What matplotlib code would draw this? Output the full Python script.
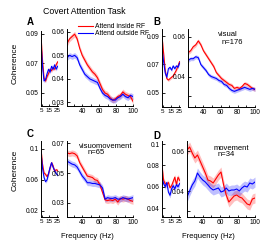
import numpy as np
import matplotlib
matplotlib.use('Agg')
import matplotlib.pyplot as plt

plt.rcParams['font.family'] = ['Liberation Sans', 'DejaVu Sans']

# 주파수 축
f_low = [4, 6, 8, 10, 12, 14, 16, 18, 20, 22, 24, 26]
f_high = [22, 25, 28, 31, 34, 37, 40, 43, 46, 49, 52, 55, 58, 61, 64,
          67, 70, 73, 76, 79, 82, 85, 88, 91, 94, 97, 100]

# A: 전체
a_low_in = [0.089, 0.072, 0.060, 0.058, 0.061, 0.063, 0.066, 0.065, 0.067, 0.066, 0.069, 0.071]
a_low_out = [0.084, 0.068, 0.058, 0.059, 0.063, 0.066, 0.064, 0.068, 0.066, 0.069, 0.066, 0.068]
a_high_in = [0.055, 0.057, 0.058, 0.059, 0.057, 0.053, 0.050, 0.048, 0.046, 0.0445, 0.043, 0.042, 0.0405,
             0.038, 0.0355, 0.034, 0.0335, 0.032, 0.031, 0.0315, 0.0325, 0.033, 0.0345, 0.0335, 0.033, 0.0325, 0.0305]
a_high_out = [0.049, 0.050, 0.0495, 0.050, 0.049, 0.046, 0.044, 0.042, 0.041, 0.040, 0.0395, 0.039, 0.0385,
              0.036, 0.034, 0.033, 0.0325, 0.0315, 0.031, 0.031, 0.032, 0.0325, 0.0335, 0.0325, 0.032, 0.033, 0.0325]

# B: visual
b_low_in = [0.090, 0.078, 0.066, 0.060, 0.059, 0.060, 0.061, 0.062, 0.064, 0.066, 0.069, 0.072]
b_low_out = [0.081, 0.072, 0.064, 0.061, 0.067, 0.068, 0.066, 0.069, 0.067, 0.069, 0.068, 0.071]
b_high_in = [0.052, 0.053, 0.055, 0.056, 0.058, 0.056, 0.053, 0.051, 0.049, 0.047, 0.045, 0.042, 0.0405,
             0.039, 0.038, 0.037, 0.036, 0.0355, 0.034, 0.0345, 0.034, 0.035, 0.0365, 0.036, 0.035, 0.034, 0.0335]
b_high_out = [0.048, 0.049, 0.049, 0.050, 0.0495, 0.046, 0.0445, 0.043, 0.041, 0.040, 0.0395, 0.039, 0.038,
              0.0375, 0.036, 0.0355, 0.034, 0.033, 0.0325, 0.033, 0.0335, 0.034, 0.0345, 0.034, 0.0335, 0.034, 0.0335]

# C: visuomovement
c_low_in = [0.100, 0.080, 0.069, 0.067, 0.064, 0.068, 0.075, 0.082, 0.078, 0.071, 0.073, 0.072]
c_low_out = [0.095, 0.075, 0.063, 0.0575, 0.060, 0.068, 0.076, 0.082, 0.076, 0.072, 0.068, 0.066]
c_high_in = [0.0635, 0.063, 0.0635, 0.063, 0.0615, 0.057, 0.054, 0.051, 0.048, 0.0475, 0.047, 0.0455, 0.045,
             0.042, 0.037, 0.032, 0.0315, 0.032, 0.0315, 0.0325, 0.0305, 0.033, 0.0325, 0.033, 0.0325, 0.0315, 0.031]
c_high_out = [0.058, 0.057, 0.056, 0.0555, 0.054, 0.051, 0.048, 0.046, 0.0435, 0.0435, 0.043, 0.043, 0.0425,
              0.042, 0.040, 0.0325, 0.0335, 0.033, 0.033, 0.0335, 0.0325, 0.0325, 0.0335, 0.033, 0.0325, 0.033, 0.0335]

# D: movement
d_low_in = [0.080, 0.066, 0.063, 0.062, 0.064, 0.059, 0.061, 0.065, 0.069, 0.062, 0.069, 0.066]
d_low_out = [0.068, 0.063, 0.060, 0.064, 0.055, 0.052, 0.058, 0.061, 0.058, 0.062, 0.060, 0.063]
d_high_in = [0.0605, 0.062, 0.059, 0.0565, 0.058, 0.055, 0.052, 0.049, 0.0455, 0.045, 0.044, 0.046, 0.048,
             0.0495, 0.043, 0.038, 0.0345, 0.036, 0.0375, 0.038, 0.037, 0.0365, 0.035, 0.0335, 0.033, 0.036, 0.0365]
d_high_out = [0.037, 0.040, 0.043, 0.045, 0.049, 0.047, 0.0455, 0.0445, 0.043, 0.0415, 0.0405, 0.041, 0.0415,
              0.0395, 0.040, 0.0415, 0.040, 0.0405, 0.0405, 0.041, 0.040, 0.0415, 0.0425, 0.042, 0.044, 0.0435, 0.0445]

# 패널별 표준오차 (음영 폭)
sem = {'A': 0.0012, 'B': 0.001, 'C': 0.002, 'D': 0.0025}

W, H = 263, 247
fig = plt.figure(figsize=(W / 100, H / 100), dpi=100)


def px(l, t, r, b):
    return [l / W, 1 - b / H, (r - l) / W, (b - t) / H]


def style(ax):
    for s in ['top', 'right']:
        ax.spines[s].set_visible(False)
    for s in ['left', 'bottom']:
        ax.spines[s].set_linewidth(0.7)
    ax.tick_params(direction='in', length=1.8, width=0.6, labelsize=4.8, pad=1.5)


def band(ax, f, y, e, color):
    y = np.array(y)
    ax.fill_between(f, y - e, y + e, color=color, alpha=0.25, lw=0)
    return ax.plot(f, y, color=color, lw=0.8)[0]


def panel(box_low, box_high, lo_in, lo_out, hi_in, hi_out, e,
          ylim_low, yt_low, ytl_low, ylim_high, yt_high, ytl_high):
    ax1 = fig.add_axes(px(*box_low))
    band(ax1, f_low, lo_in, e, 'red')
    band(ax1, f_low, lo_out, e, 'blue')
    ax1.set_xlim(4, 26.5)
    ax1.set_ylim(*ylim_low)
    ax1.set_xticks([5, 15, 25])
    ax1.set_yticks(yt_low)
    ax1.set_yticklabels(ytl_low)
    style(ax1)
    ax1.tick_params(axis='x', labelsize=4.5)

    ax2 = fig.add_axes(px(*box_high))
    l1 = band(ax2, f_high, hi_in, e, 'red')
    l2 = band(ax2, f_high, hi_out, e, 'blue')
    ax2.set_xlim(22, 100)
    ax2.set_ylim(*ylim_high)
    ax2.set_xticks(range(30, 101, 10))
    ax2.set_xticklabels(['', '40', '', '60', '', '80', '', '100'])
    ax2.set_yticks(yt_high)
    ax2.set_yticklabels(ytl_high)
    style(ax2)
    return ax1, ax2, l1, l2


# A
_, _, line_in, line_out = panel((41, 31, 58, 106), (67, 29, 133, 106),
                                a_low_in, a_low_out, a_high_in, a_high_out, sem['A'],
                                (0.041, 0.092), [0.05, 0.07, 0.09], ['0.05', '0.07', '0.09'],
                                (0.0285, 0.0612), [0.03, 0.04, 0.05, 0.06], ['0.03', '0.04', '0.05', '0.06'])
# B
panel((162, 29, 180, 107), (188, 29, 255, 107),
      b_low_in, b_low_out, b_high_in, b_high_out, sem['B'],
      (0.040, 0.095), [0.05, 0.07, 0.09], ['0.05', '0.07', '0.09'],
      (0.0246, 0.064), [0.03, 0.04, 0.06], ['', '0.04', '0.06'])
# C
panel((41, 141, 58, 217), (67, 141, 133, 217),
      c_low_in, c_low_out, c_high_in, c_high_out, sem['C'],
      (0.012, 0.11), [0.02, 0.06, 0.1], ['0.02', '0.06', '0.1'],
      (0.0205, 0.0715), [0.03, 0.05, 0.07], ['0.03', '0.05', '0.07'])
# D
panel((162, 141, 180, 217), (187, 141, 255, 217),
      d_low_in, d_low_out, d_high_in, d_high_out, sem['D'],
      (0.0316, 0.103), [0.04, 0.06, 0.08, 0.1], ['0.04', '0.06', '0.08', '0.1'],
      (0.027, 0.065), [0.03, 0.04, 0.06], ['', '0.04', '0.06'])


def ftext(x, y, s, **kw):
    fig.text(x / W, 1 - y / H, s, **kw)


ftext(84, 12, 'Covert Attention Task', fontsize=6.3, ha='center', va='center')
for lab, x, y in [('A', 30, 22), ('B', 157, 22), ('C', 30, 134), ('D', 157, 136)]:
    ftext(x, y, lab, fontsize=7, fontweight='bold', ha='center', va='center')
ftext(15, 63, 'Coherence', fontsize=6, rotation=90, ha='center', va='center')
ftext(15, 170, 'Coherence', fontsize=6, rotation=90, ha='center', va='center')
ftext(87, 236, 'Frequency (Hz)', fontsize=5.5, ha='center', va='center')
ftext(208, 236, 'Frequency (Hz)', fontsize=5.5, ha='center', va='center')
ftext(228, 35, 'visual', fontsize=5.5, ha='center', va='center')
ftext(232, 43, 'n=176', fontsize=5.5, ha='center', va='center')
ftext(106, 146, 'visuomovement', fontsize=5.5, ha='center', va='center')
ftext(96, 152.5, 'n=65', fontsize=5.5, ha='center', va='center')
ftext(231, 148, 'movement', fontsize=5.5, ha='center', va='center')
ftext(226, 154, 'n=34', fontsize=5.5, ha='center', va='center')

fig.legend([line_in, line_out], ['Attend inside RF', 'Attend outside RF'],
           loc='upper left', bbox_to_anchor=(78 / W, 1 - 23 / H), frameon=False,
           fontsize=4.9, handlelength=2.2, handletextpad=0.3, labelspacing=0.0,
           borderpad=0, borderaxespad=0)

fig.savefig('out.png', dpi=100)
